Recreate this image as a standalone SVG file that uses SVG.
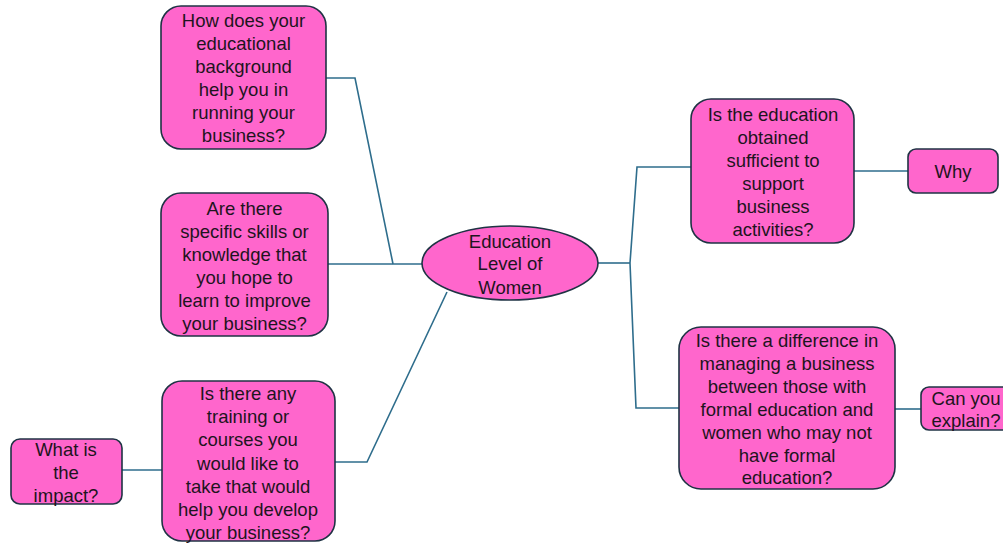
<svg xmlns="http://www.w3.org/2000/svg" width="1003" height="543" viewBox="0 0 1003 543">
  <style>
    .box { fill: #FF66CC; stroke: #1F3344; stroke-width: 1.6; }
    .link { fill: none; stroke: #2E6D8C; stroke-width: 1.6; }
    text { font-family: "Liberation Sans", Arial, sans-serif; font-size: 18.5px; fill: #1E1420; text-anchor: middle; }
  </style>
  <rect width="1003" height="543" fill="#FFFFFF"/>

  <!-- connectors -->
  <g id="connectors">
    <polyline class="link" points="326,78 355,78 393,264"/>
    <line class="link" x1="328" y1="264" x2="422" y2="264"/>
    <polyline class="link" points="335,462 367,462 447,292"/>
    <polyline class="link" points="598,263 630,263"/>
    <polyline class="link" points="691,167 637,167 630,263 636,408 679,408"/>
    <line class="link" x1="854" y1="171" x2="908" y2="171"/>
    <line class="link" x1="895" y1="409" x2="921" y2="409"/>
    <line class="link" x1="122" y1="470" x2="162" y2="470"/>
  </g>

  <!-- central topic -->
  <g id="center">
    <ellipse class="box" cx="510" cy="263" rx="88" ry="37"/>
    <text x="510" y="247.5">Education</text>
    <text x="510" y="270">Level of</text>
    <text x="510" y="293.5">Women</text>
  </g>

  <g id="q-background">
    <rect class="box" x="161" y="6" width="165" height="143" rx="20"/>
    <text x="243.5" y="26.5">How does your</text>
    <text x="243.5" y="49.5">educational</text>
    <text x="243.5" y="72.5">background</text>
    <text x="243.5" y="95.5">help you in</text>
    <text x="243.5" y="118.5">running your</text>
    <text x="243.5" y="141.5">business?</text>
  </g>

  <g id="q-skills">
    <rect class="box" x="161" y="193" width="167" height="143" rx="20"/>
    <text x="244.5" y="214.5">Are there</text>
    <text x="244.5" y="237.5">specific skills or</text>
    <text x="244.5" y="260.5">knowledge that</text>
    <text x="244.5" y="283.5">you hope to</text>
    <text x="244.5" y="306.5">learn to improve</text>
    <text x="244.5" y="329.5">your business?</text>
  </g>

  <g id="q-training">
    <rect class="box" x="162" y="381" width="173" height="160" rx="20"/>
    <text x="248" y="399.5">Is there any</text>
    <text x="248" y="423">training or</text>
    <text x="248" y="446">courses you</text>
    <text x="248" y="469.5">would like to</text>
    <text x="248" y="492.5">take that would</text>
    <text x="248" y="515.5">help you develop</text>
    <text x="248" y="538.5">your business?</text>
  </g>

  <g id="q-impact">
    <rect class="box" x="11" y="439" width="111" height="65" rx="9"/>
    <text x="66" y="455.5">What is</text>
    <text x="66" y="478.5">the</text>
    <text x="66" y="501.5">impact?</text>
  </g>

  <g id="q-sufficient">
    <rect class="box" x="691" y="99" width="163" height="144" rx="20"/>
    <text x="773" y="120.5">Is the education</text>
    <text x="773" y="143.5">obtained</text>
    <text x="773" y="166.5">sufficient to</text>
    <text x="773" y="189.5">support</text>
    <text x="773" y="212.5">business</text>
    <text x="773" y="235.5">activities?</text>
  </g>

  <g id="q-why">
    <rect class="box" x="908" y="149" width="90" height="44" rx="8"/>
    <text x="953" y="177.5">Why</text>
  </g>

  <g id="q-difference">
    <rect class="box" x="679" y="327" width="216" height="162" rx="22"/>
    <text x="787" y="346.5">Is there a difference in</text>
    <text x="787" y="369.5">managing a business</text>
    <text x="787" y="392.5">between those with</text>
    <text x="787" y="415.5">formal education and</text>
    <text x="787" y="438.5">women who may not</text>
    <text x="787" y="461.5">have formal</text>
    <text x="787" y="484">education?</text>
  </g>

  <g id="q-explain">
    <rect class="box" x="921" y="387" width="92" height="43" rx="8"/>
    <text x="966" y="404.5">Can you</text>
    <text x="966" y="426.5">explain?</text>
  </g>
</svg>
